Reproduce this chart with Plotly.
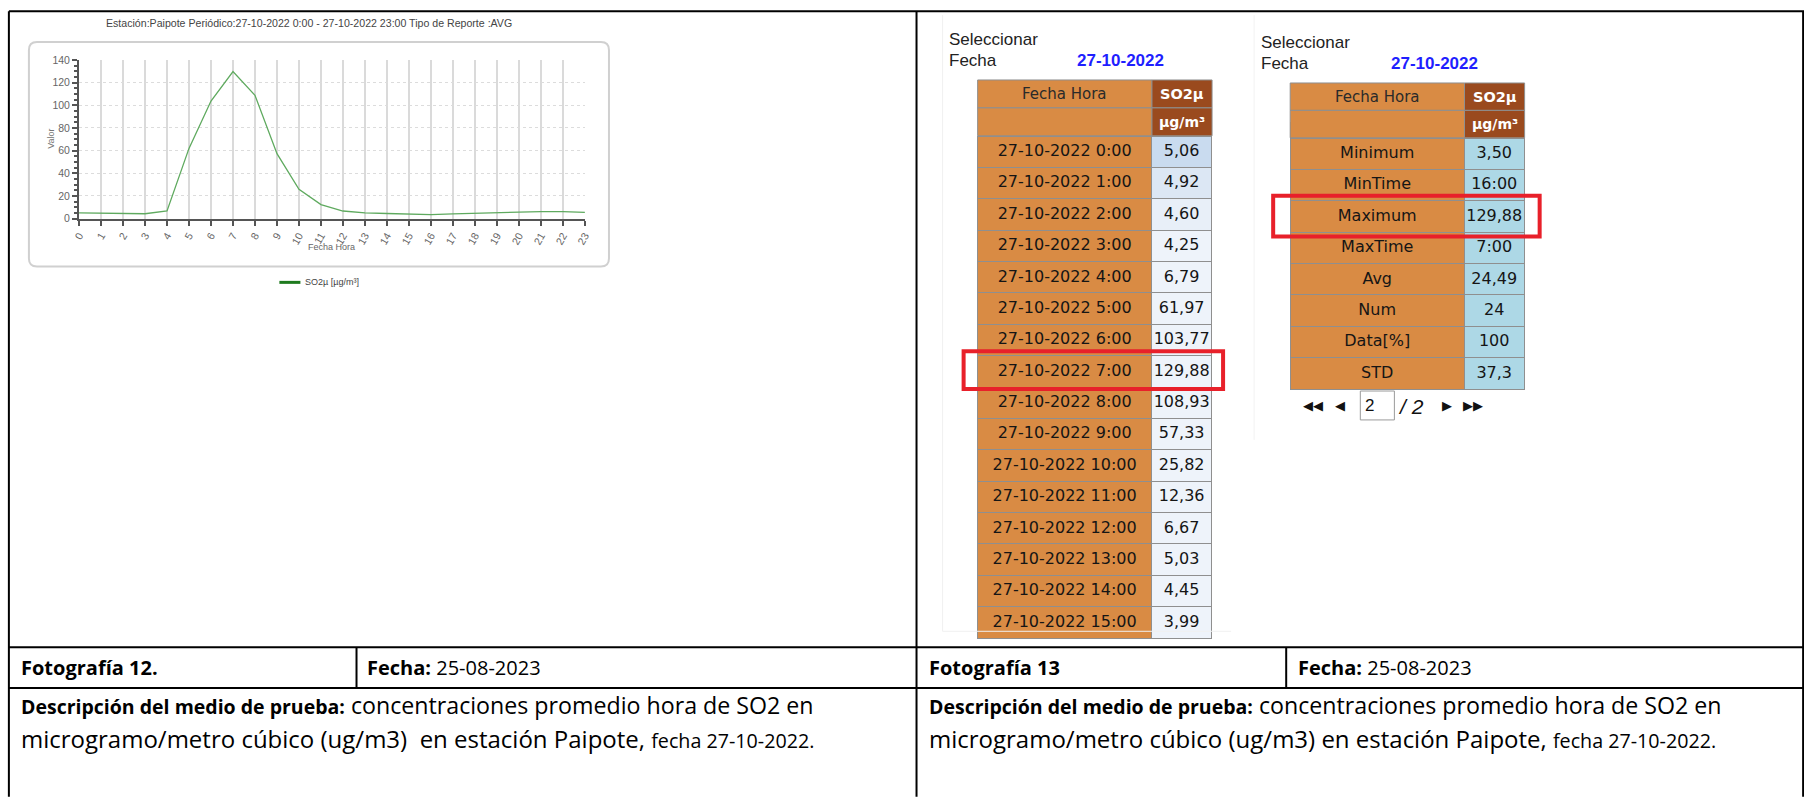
import plotly.graph_objects as go

W, H = 1804, 798

# ---------------- data ----------------
hours = list(range(24))
so2_values = [5.06, 4.92, 4.60, 4.25, 6.79, 61.97, 103.77, 129.88, 108.93, 57.33,
              25.82, 12.36, 6.67, 5.03, 4.45, 3.99, 3.50, 4.2, 4.8, 5.3, 6.1, 6.2, 6.1, 5.5]
table_hours = hours[:16]
date_label = "27-10-2022"
stat_labels = ["Minimum", "MinTime", "Maximum", "MaxTime", "Avg", "Num", "Data[%]", "STD"]
stat_values = ["3,50", "16:00", "129,88", "7:00", "24,49", "24", "100", "37,3"]
header_labels = ["Fecha Hora", "SO2µ", "µg/m³"]
chart_title = "Estación:Paipote Periódico:27-10-2022 0:00 - 27-10-2022 23:00 Tipo de Reporte :AVG"
series_name = "SO2µ [µg/m³]"

# the rendered page comes out slightly shrunk about its centre; compensate
SX, SY, CX, CY = 0.991, 0.988, 902.0, 399.0


def px(x):
    return (CX + (x - CX) / SX) / W


def py(y):
    return 1 - (CY + (y - CY) / SY) / H


ORANGE = "#D98B44"
BROWN = "#9A4A1E"
GRIDLINE = "#8f8f8f"
ROW_H = 31 / SY
EMPTY_HEADER = 16 * SY  # plotly draws a 16px strip when a table has no header

fig = go.Figure()

# ---------------- line chart ----------------
fig.add_trace(go.Scatter(
    x=hours, y=so2_values, mode="lines",
    line=dict(color="#5faa5f", width=1.3),
    showlegend=False, hoverinfo="skip",
))

# ---------------- tables (data rows) ----------------
fmt_vals = [f"{v:.2f}".replace(".", ",") for v in so2_values[:16]]
row_labels = [f"{date_label} {h}:00" for h in table_hours]
blue_fill = ["#C9DBEF", "#DCE7F4", "#E8EFF8"] + ["#EEF3FA"] * (len(table_hours) - 3)

tables = [
    # x0, xdiv, x1, header top, data top
    (977, 1151, 1211, 79, 135, row_labels, fmt_vals, blue_fill),
    (1289, 1463, 1523, 82, 137, stat_labels, stat_values, ["#ADD8E6"] * len(stat_values)),
]

for (x0, xd, x1, ht, dt, labs, vals, vfill) in tables:
    fig.add_trace(go.Table(
        domain=dict(x=[px(x0), px(x1)], y=[py(dt + 600), py(dt - EMPTY_HEADER)]),
        columnwidth=[xd - x0, x1 - xd],
        header=dict(values=[], fill=dict(color=ORANGE), line=dict(width=0)),
        cells=dict(values=[labs, vals],
                   fill=dict(color=[[ORANGE] * len(labs), vfill]),
                   line=dict(color=GRIDLINE, width=1),
                   font=dict(family="DejaVu Sans", size=16, color="#151515"),
                   align="center", height=ROW_H),
    ))

# ---------------- shapes ----------------
shapes = []


def line(x0, y0, x1, y1, color="#000", width=2):
    shapes.append(dict(type="line", xref="paper", yref="paper",
                       x0=px(x0), y0=py(y0), x1=px(x1), y1=py(y1),
                       line=dict(color=color, width=width)))


def rect(x0, y0, x1, y1, color, width=1, fill=None):
    shapes.append(dict(type="rect", xref="paper", yref="paper",
                       x0=px(x0), y0=py(y0), x1=px(x1), y1=py(y1),
                       line=dict(color=color, width=width),
                       fillcolor=fill if fill else "rgba(0,0,0,0)"))


def rounded(x0, y0, x1, y1, r, color, width):
    p = (f"M {px(x0 + r)},{py(y0)} L {px(x1 - r)},{py(y0)} Q {px(x1)},{py(y0)} {px(x1)},{py(y0 + r)} "
         f"L {px(x1)},{py(y1 - r)} Q {px(x1)},{py(y1)} {px(x1 - r)},{py(y1)} "
         f"L {px(x0 + r)},{py(y1)} Q {px(x0)},{py(y1)} {px(x0)},{py(y1 - r)} "
         f"L {px(x0)},{py(y0 + r)} Q {px(x0)},{py(y0)} {px(x0 + r)},{py(y0)} Z")
    shapes.append(dict(type="path", xref="paper", yref="paper", path=p,
                       line=dict(color=color, width=width), layer="below"))


# document table borders
line(10, 10, 1802, 10)
line(10, 10, 10, 798)
line(1801, 10, 1801, 798)
line(916, 10, 916, 798)
line(10, 648, 1801, 648)
line(10, 689, 1801, 689)
line(357, 648, 357, 689)
line(1285, 648, 1285, 689)

# faint screenshot edges
line(942, 14, 942, 632, color="#f0f0f0", width=1)
line(942, 632, 1230, 632, color="#f0f0f0", width=1)
line(1253, 14, 1253, 440, color="#f2f2f2", width=1)

# chart frame
rounded(30, 41, 609, 266, 8, "#d0d0d0", 2)

# legend sample
line(280, 282, 301, 282, color="#1e7a1e", width=3)

# table header blocks (two header rows)
for (x0, xd, x1, ht, dt, *_r) in tables:
    mid = (ht + dt) / 2
    rect(x0, ht, xd, mid, GRIDLINE, 1, fill=ORANGE)
    rect(x0, mid, xd, dt, GRIDLINE, 1, fill=ORANGE)
    rect(xd, ht, x1, mid, GRIDLINE, 1, fill=BROWN)
    rect(xd, mid, x1, dt, GRIDLINE, 1, fill=BROWN)

# red highlight boxes
rect(963, 351, 1222, 389, "#E8202A", 4)
rect(1272, 195, 1538, 236, "#E8202A", 4)

# pager input box
rect(1359, 391, 1393, 420, "#9a9a9a", 1, fill="white")

# ---------------- annotations ----------------
ann = []


def text(x, y, s, size, color="#000", family="Liberation Sans", xanchor="left", yanchor="middle", angle=0):
    ann.append(dict(x=px(x), y=py(y), xref="paper", yref="paper", text=s, showarrow=False,
                    xanchor=xanchor, yanchor=yanchor, textangle=angle, borderpad=0,
                    font=dict(size=size, color=color, family=family)))


text(310, 22, chart_title, 10.6, "#444", xanchor="center")
text(52, 138, "Valor", 9, "#777", xanchor="center", angle=-90)
text(332, 247, "Fecha Hora", 9, "#666", xanchor="center")
text(305, 282, series_name, 9, "#444")

# table header texts
for (x0, xd, x1, ht, dt, *_r) in tables:
    mid = (ht + dt) / 2
    text((x0 + xd) / 2, (ht + mid) / 2, header_labels[0], 15, "#2a2a2a", family="DejaVu Sans", xanchor="center")
    text((xd + x1) / 2, (ht + mid) / 2, f"<b>{header_labels[1]}</b>", 14.5, "white", family="DejaVu Sans", xanchor="center")
    text((xd + x1) / 2, (mid + dt) / 2, f"<b>{header_labels[2]}</b>", 14, "white", family="DejaVu Sans", xanchor="center")

# selectors
for (lx, ly, dx) in [(947, 38, 1120), (1259, 41, 1433)]:
    text(lx, ly, "Seleccionar", 17, "#222", family="Liberation Sans")
    text(lx, ly + 21, "Fecha", 17, "#222", family="Liberation Sans")
    text(dx, ly + 21, f"<b>{date_label}</b>", 17, "#1f1fff", family="Liberation Sans", xanchor="center")

# pager
text(1312, 406, "◀◀", 13, "#111", family="DejaVu Sans", xanchor="center")
text(1339, 406, "◀", 13, "#111", family="DejaVu Sans", xanchor="center")
text(1363, 406, "2", 17, "#111", family="Liberation Sans")
text(1396, 407, "<i>/ 2</i>", 21, "#111", family="Liberation Sans")
text(1446, 406, "▶", 13, "#111", family="DejaVu Sans", xanchor="center")
text(1471, 406, "▶▶", 13, "#111", family="DejaVu Sans", xanchor="center")

# bottom captions
F = "Open Sans"
text(21, 668, "<b>Fotografía 12.</b>", 20, family=F)
text(366, 668, "<b>Fecha:</b> 25-08-2023", 20, family=F)
text(927, 668, "<b>Fotografía 13</b>", 20, family=F)
text(1296, 668, "<b>Fecha:</b> 25-08-2023", 20, family=F)

BOLD = "<b><span style='font-size:19.5px'>Descripción del medio de prueba:</span></b>"
desc1 = BOLD + " concentraciones promedio hora de SO2 en"
small = "<span style='font-size:19.7px'>fecha 27-10-2022.</span>"
text(21, 706, desc1, 23.2, family=F)
text(927, 706, desc1, 23.2, family=F)
text(21, 740, "microgramo/metro cúbico (ug/m3) \u00a0en estación Paipote, " + small, 24, family=F)
text(927, 740, "microgramo/metro cúbico (ug/m3) en estación Paipote, " + small, 24, family=F)

# ---------------- layout ----------------
fig.update_layout(
    width=W, height=H,
    margin=dict(l=0, r=0, t=0, b=0),
    paper_bgcolor="white", plot_bgcolor="white",
    showlegend=False,
    shapes=shapes, annotations=ann,
    xaxis=dict(domain=[px(80), px(585)], range=[0, 23], tickvals=hours,
               showgrid=True, gridcolor="#dadada", gridwidth=2,
               showline=True, linecolor="#555", linewidth=2,
               ticks="outside", ticklen=5, tickcolor="#555", tickwidth=1.5,
               tickangle=-60, tickfont=dict(family="Liberation Sans", size=10.5, color="#666"),
               zeroline=False, fixedrange=True),
    yaxis=dict(domain=[py(218), py(59)], range=[0, 140], tickvals=list(range(0, 141, 20)),
               showgrid=True, gridcolor="#dcdcdc", gridwidth=1, griddash="dot",
               showline=True, linecolor="#555", linewidth=2,
               ticks="outside", ticklen=5, tickcolor="#555", tickwidth=1.5,
               minor=dict(dtick=5, ticks="outside", ticklen=3, tickcolor="#555", showgrid=False),
               tickfont=dict(family="Liberation Sans", size=10.5, color="#666"),
               zeroline=False, fixedrange=True),
)

post = ("var st=document.createElement('style');"
        "st.innerHTML='html,body{margin:0;padding:0;overflow:hidden;width:1804px;height:798px;}"
        "body>div{margin:0;padding:0;line-height:0;}';"
        "document.head.appendChild(st);")

fig.write_html("out.html", config={"displayModeBar": False}, post_script=post)
